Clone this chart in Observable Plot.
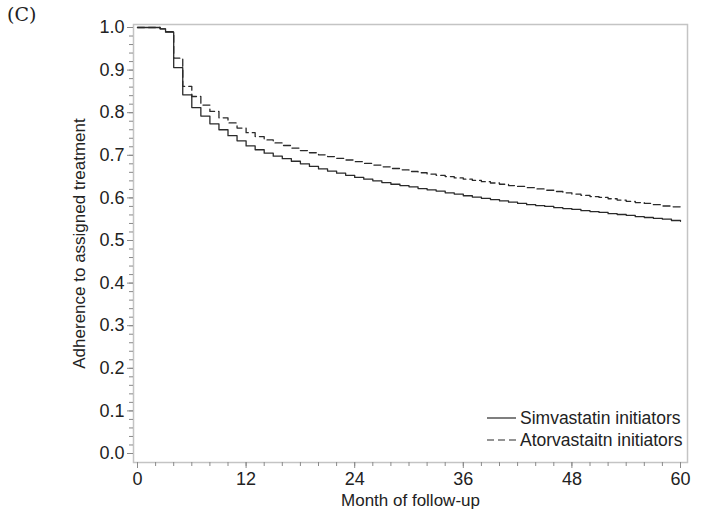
<!DOCTYPE html>
<html><head><meta charset="utf-8">
<script src="https://cdn.jsdelivr.net/npm/d3@7"></script>
<script src="https://cdn.jsdelivr.net/npm/@observablehq/plot@0.6"></script>
<style>
body{margin:0;background:#fff;}
#wrap{position:relative;width:704px;height:523px;font-family:"Liberation Sans",Arial,sans-serif;color:#222;}
#title{position:absolute;left:7px;top:3px;font-family:"DejaVu Serif","Liberation Serif",serif;font-size:19px;}
#legend{position:absolute;left:486px;top:407px;font-size:17.5px;line-height:22px;}
#legend div{display:flex;align-items:center;}
#legend svg{margin-right:3px;}
</style></head><body>
<div id="wrap"><div id="title">(C)</div><div id="chart"></div><div id="legend"></div></div>
<script>
const month = [0, 2.5, 3.1, 4, 5, 6, 7, 8, 9, 10, 11, 12, 13, 14, 15, 16, 17, 18, 19, 20, 21, 22, 23, 24, 25, 26, 27, 28, 29, 30, 31, 32, 33, 34, 35, 36, 37, 38, 39, 40, 41, 42, 43, 44, 45, 46, 47, 48, 49, 50, 51, 52, 53, 54, 55, 56, 57, 58, 59, 60];
const simvastatin = [1.0, 0.997, 0.989, 0.906, 0.842, 0.812, 0.792, 0.774, 0.760, 0.746, 0.734, 0.722, 0.713, 0.705, 0.698, 0.692, 0.686, 0.680, 0.674, 0.668, 0.663, 0.658, 0.653, 0.648, 0.644, 0.640, 0.636, 0.632, 0.629, 0.626, 0.622, 0.619, 0.616, 0.612, 0.609, 0.605, 0.602, 0.599, 0.596, 0.593, 0.590, 0.587, 0.584, 0.582, 0.580, 0.577, 0.575, 0.573, 0.570, 0.568, 0.566, 0.563, 0.561, 0.559, 0.556, 0.554, 0.552, 0.550, 0.547, 0.545];
const atorvastatin = [1.0, 0.997, 0.990, 0.928, 0.862, 0.838, 0.818, 0.803, 0.788, 0.776, 0.764, 0.753, 0.744, 0.736, 0.729, 0.723, 0.717, 0.711, 0.706, 0.701, 0.697, 0.693, 0.689, 0.685, 0.681, 0.677, 0.673, 0.669, 0.666, 0.662, 0.659, 0.656, 0.653, 0.650, 0.647, 0.644, 0.641, 0.638, 0.635, 0.632, 0.629, 0.627, 0.624, 0.621, 0.618, 0.615, 0.612, 0.609, 0.606, 0.603, 0.601, 0.598, 0.595, 0.592, 0.589, 0.587, 0.584, 0.581, 0.579, 0.577];
const seriesNames = ["Simvastatin initiators", "Atorvastaitn initiators"];
const xTicks = [0, 12, 24, 36, 48, 60];
const yTicks = [0.0, 0.1, 0.2, 0.3, 0.4, 0.5, 0.6, 0.7, 0.8, 0.9, 1.0];
const xTitle = "Month of follow-up";
const yTitle = "Adherence to assigned treatment";

const sim = month.map((m, i) => ({m, v: simvastatin[i]}));
const ator = month.map((m, i) => ({m, v: atorvastatin[i]}));
const xMinor = d3.range(0, 61, 2);
const yMinor = d3.range(0, 51).map(i => i / 50);

const lineColor = "#2a2a2a";
const dash = "7,4";
const axisColor = "#8a8a8a";

const chart = Plot.plot({
  width: 704, height: 523,
  marginLeft: 133, marginRight: 17, marginTop: 24, marginBottom: 61,
  insetLeft: 4, insetRight: 7, insetTop: 3, insetBottom: 9,
  x: {domain: [0, 60]},
  y: {domain: [0, 1]},
  style: {fontFamily: "'Liberation Sans', Arial, sans-serif", fontSize: "18px", color: "#222", background: "#fff"},
  marks: [
    Plot.frame({stroke: "#c4c4c4", strokeWidth: 1.5}),
    Plot.axisX(xMinor, {tickSize: 4, text: null, stroke: axisColor, label: null}),
    Plot.axisY(yMinor, {tickSize: 4, text: null, stroke: axisColor, label: null}),
    Plot.axisX(xTicks, {tickSize: 6, tickPadding: 4, stroke: axisColor, fill: "#222", fontSize: 18, label: null}),
    Plot.axisY(yTicks, {tickSize: 6, tickPadding: 3, tickFormat: ".1f", stroke: axisColor, fill: "#222", fontSize: 18, label: null}),
    Plot.text([xTitle], {frameAnchor: "bottom", dy: 43, text: d => d, fontSize: 17, fill: "#222"}),
    Plot.text([yTitle], {frameAnchor: "left", dx: -54, rotate: -90, textAnchor: "middle", text: d => d, fontSize: 17, fill: "#222"}),
    Plot.line(sim, {x: "m", y: "v", curve: "step-after", stroke: lineColor, strokeWidth: 1.3}),
    Plot.line(ator, {x: "m", y: "v", curve: "step-after", stroke: lineColor, strokeWidth: 1.3, strokeDasharray: dash})
  ]
});
document.getElementById("chart").appendChild(chart);

const legend = document.getElementById("legend");
seriesNames.forEach((name, i) => {
  const row = document.createElement("div");
  row.innerHTML = `<svg width="31" height="10"><line x1="1" x2="30" y1="5" y2="5" stroke="${lineColor}" stroke-width="1.2" ${i ? `stroke-dasharray="${dash}"` : ""}/></svg><span>${name}</span>`;
  legend.appendChild(row);
});
</script>
</body></html>
